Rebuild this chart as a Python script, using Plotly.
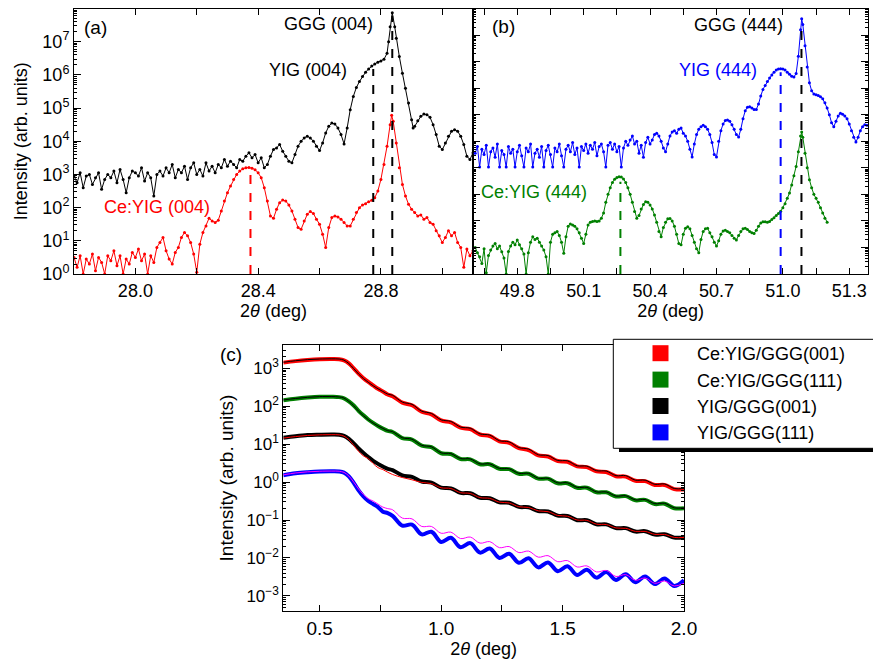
import plotly.graph_objects as go

W, H = 873, 663
FONT = "Liberation Sans, Arial, Helvetica, sans-serif"

# ---------------- panel (a): (004) reflections, (2theta, log10 intensity) ----------------
a_black = [
(27.80,2.95),(27.81,2.75),(27.82,3.05),(27.83,2.60),(27.84,2.95),(27.85,3.00),(27.86,2.70),(27.87,2.90),(27.88,3.05),(27.89,2.55),
(27.90,2.85),(27.91,3.00),(27.92,2.90),(27.93,3.10),(27.94,2.75),(27.95,3.15),(27.96,2.85),(27.97,2.45),(27.98,2.90),(27.99,3.10),
(28.00,3.05),(28.01,2.95),(28.02,3.20),(28.03,2.80),(28.04,3.05),(28.05,2.90),(28.06,2.35),(28.07,3.00),(28.08,3.10),(28.09,2.95),
(28.10,3.20),(28.11,3.05),(28.12,3.30),(28.13,2.90),(28.14,3.15),(28.15,3.05),(28.16,3.25),(28.17,2.85),(28.18,3.20),(28.19,3.35),
(28.20,3.00),(28.21,3.15),(28.22,2.95),(28.23,3.35),(28.24,3.10),(28.25,3.25),(28.26,3.05),(28.27,3.30),(28.28,3.20),(28.29,3.45),
(28.30,3.25),(28.31,3.40),(28.32,3.30),(28.33,3.20),(28.34,3.45),(28.35,3.40),(28.36,3.55),(28.37,3.65),(28.38,3.50),(28.39,3.60),
(28.40,3.35),(28.41,3.50),(28.42,3.20),(28.43,3.30),(28.44,3.55),(28.45,3.75),(28.46,3.80),(28.47,3.90),(28.48,3.70),(28.49,3.55),
(28.50,3.40),(28.51,3.35),(28.52,3.60),(28.53,3.85),(28.54,4.00),(28.55,4.10),(28.56,4.15),(28.57,4.10),(28.58,4.00),(28.59,3.85),
(28.60,3.72),(28.61,3.95),(28.62,4.25),(28.63,4.45),(28.64,4.55),(28.65,4.52),(28.66,4.40),(28.67,4.20),(28.68,3.92),(28.69,4.40),
(28.70,4.95),(28.71,5.35),(28.72,5.62),(28.73,5.80),(28.74,5.95),(28.75,6.08),(28.76,6.18),(28.77,6.27),(28.78,6.33),(28.79,6.38),
(28.80,6.42),(28.81,6.47),(28.82,6.65),(28.825,7.00),(28.83,7.45),(28.837,7.87),(28.845,7.45),(28.85,7.10),(28.86,6.55),(28.87,6.05),
(28.88,5.60),(28.89,5.15),(28.90,4.65),(28.905,4.40),(28.91,4.45),(28.92,4.62),(28.93,4.75),(28.94,4.82),(28.95,4.80),(28.96,4.72),
(28.97,4.50),(28.98,4.20),(28.99,3.85),(29.00,3.75),(29.01,3.95),(29.02,4.15),(29.03,4.30),(29.04,4.35),(29.05,4.30),(29.06,4.15),
(29.07,3.90),(29.08,3.55),(29.09,3.45),(29.10,3.65),
]
a_red = [
(27.80,0.50),(27.81,0.20),(27.82,0.55),(27.83,0.00),(27.84,0.45),(27.85,0.30),(27.86,0.60),(27.87,0.10),(27.88,0.50),(27.89,0.35),
(27.90,0.00),(27.91,0.55),(27.92,0.40),(27.93,0.70),(27.94,0.25),(27.95,0.55),(27.96,0.00),(27.97,0.45),(27.98,0.30),(27.99,0.65),
(28.00,0.50),(28.01,0.75),(28.02,0.40),(28.03,0.60),(28.04,0.00),(28.05,0.55),(28.06,0.35),(28.07,0.80),(28.08,0.95),(28.09,1.10),
(28.10,0.70),(28.11,0.45),(28.12,0.30),(28.13,0.65),(28.14,0.80),(28.15,1.10),(28.16,1.25),(28.17,1.15),(28.18,0.95),(28.19,0.60),
(28.20,0.05),(28.21,0.90),(28.22,1.25),(28.23,1.45),(28.24,1.68),(28.25,1.60),(28.26,1.55),(28.27,1.62),(28.28,1.90),(28.29,2.20),
(28.30,2.45),(28.31,2.65),(28.32,2.85),(28.33,3.00),(28.34,3.10),(28.35,3.17),(28.36,3.20),(28.37,3.21),(28.38,3.19),(28.39,3.14),
(28.40,3.05),(28.41,2.90),(28.42,2.60),(28.43,2.20),(28.44,1.75),(28.45,1.68),(28.46,1.95),(28.47,2.15),(28.48,2.23),(28.49,2.20),
(28.50,2.08),(28.51,1.90),(28.52,1.65),(28.53,1.40),(28.54,1.35),(28.55,1.60),(28.56,1.80),(28.57,1.88),(28.58,1.82),(28.59,1.65),
(28.60,1.50),(28.61,1.20),(28.62,0.80),(28.63,1.40),(28.64,1.70),(28.65,1.75),(28.66,1.72),(28.67,1.65),(28.68,1.55),(28.69,1.45),
(28.70,1.45),(28.71,1.65),(28.72,1.85),(28.73,2.00),(28.74,2.08),(28.75,2.12),(28.76,2.18),(28.77,2.22),(28.78,2.30),(28.79,2.50),
(28.80,2.85),(28.81,3.30),(28.82,3.85),(28.83,4.50),(28.835,4.78),(28.84,4.60),(28.85,3.95),(28.86,3.20),(28.87,2.70),(28.88,2.35),
(28.89,2.10),(28.90,1.95),(28.91,1.85),(28.92,1.75),(28.93,1.78),(28.94,1.65),(28.95,1.70),(28.96,1.55),(28.97,1.50),(28.98,1.30),
(28.99,1.15),(29.00,0.95),(29.01,1.10),(29.02,1.30),(29.03,1.15),(29.04,1.25),(29.05,0.95),(29.06,0.80),(29.07,0.20),(29.08,0.75),
(29.09,0.55),(29.10,0.70),
]
# dashed peak markers in (a): position, log10 top, colour
a_peak_x = [28.375, 28.775, 28.837]
a_peak_top = [3.12, 6.18, 7.78]
a_peak_col = ["#ff0000", "#000000", "#000000"]

# ---------------- panel (b): (444) reflections ----------------
b_blue = [
(49.61,4.55),(49.62,4.80),(49.63,4.03),(49.64,4.70),(49.65,4.50),(49.66,4.85),(49.67,4.03),(49.68,4.60),(49.69,4.75),(49.70,4.40),
(49.71,4.90),(49.72,4.03),(49.73,4.65),(49.74,4.50),(49.75,4.03),(49.76,4.80),(49.77,4.55),(49.78,4.70),(49.79,4.03),(49.80,4.60),
(49.81,4.85),(49.82,4.45),(49.83,4.03),(49.84,4.75),(49.85,4.60),(49.86,4.90),(49.87,4.03),(49.88,4.55),(49.89,4.70),(49.90,4.40),
(49.91,4.80),(49.92,4.03),(49.93,4.65),(49.94,4.85),(49.95,4.50),(49.96,4.03),(49.97,4.75),(49.98,4.60),(49.99,4.90),(50.00,4.45),
(50.01,4.03),(50.02,4.70),(50.03,4.85),(50.04,4.60),(50.05,4.95),(50.06,4.50),(50.07,4.75),(50.08,4.03),(50.09,4.80),(50.10,4.65),
(50.11,4.90),(50.12,4.55),(50.13,4.85),(50.14,4.70),(50.15,4.95),(50.16,4.45),(50.17,4.80),(50.18,4.90),(50.19,4.60),(50.20,4.03),
(50.21,4.85),(50.22,4.95),(50.23,4.70),(50.24,4.90),(50.25,4.60),(50.26,4.80),(50.27,4.03),(50.28,4.75),(50.29,5.00),(50.30,4.85),
(50.31,5.05),(50.32,5.20),(50.33,4.90),(50.34,5.00),(50.35,4.55),(50.36,4.85),(50.37,4.40),(50.38,4.95),(50.39,5.15),(50.40,4.90),
(50.41,5.05),(50.42,5.25),(50.43,5.30),(50.44,5.20),(50.45,5.00),(50.46,4.75),(50.47,4.60),(50.48,4.90),(50.49,5.20),(50.50,5.35),
(50.51,5.40),(50.52,5.30),(50.53,5.45),(50.54,5.50),(50.55,5.30),(50.56,5.20),(50.57,5.00),(50.58,4.70),(50.59,4.41),(50.60,4.90),
(50.61,5.25),(50.62,5.45),(50.63,5.55),(50.64,5.60),(50.65,5.55),(50.66,5.45),(50.67,5.25),(50.68,4.95),(50.69,4.50),(50.70,4.41),
(50.71,5.00),(50.72,5.40),(50.73,5.65),(50.74,5.78),(50.75,5.80),(50.76,5.75),(50.77,5.62),(50.78,5.45),(50.79,5.25),(50.80,5.16),
(50.81,5.45),(50.82,5.85),(50.83,6.15),(50.84,6.28),(50.85,6.30),(50.86,6.25),(50.87,6.20),(50.88,6.20),(50.89,6.40),(50.90,6.70),
(50.91,6.95),(50.92,7.10),(50.93,7.25),(50.94,7.38),(50.95,7.50),(50.96,7.60),(50.97,7.68),(50.98,7.72),(50.99,7.73),(51.00,7.72),
(51.01,7.68),(51.02,7.60),(51.03,7.52),(51.04,7.45),(51.05,7.42),(51.06,7.55),(51.07,8.20),(51.08,9.20),(51.085,9.61),(51.09,9.40),
(51.10,8.60),(51.11,7.80),(51.12,7.20),(51.13,6.90),(51.14,6.78),(51.15,6.75),(51.16,6.72),(51.17,6.68),(51.18,6.60),(51.19,6.45),
(51.20,6.25),(51.21,6.00),(51.22,5.70),(51.23,5.55),(51.24,5.75),(51.25,5.95),(51.26,6.05),(51.27,6.02),(51.28,5.95),(51.29,5.85),
(51.30,5.65),(51.31,5.40),(51.32,5.15),(51.33,4.97),(51.34,5.15),(51.35,5.40),(51.36,5.55),(51.37,5.62),(51.38,5.60),
]
b_green = [
(49.61,1.00),(49.62,0.80),(49.63,0.65),(49.64,0.40),(49.65,0.95),(49.66,0.05),(49.67,0.70),(49.68,0.90),(49.69,1.05),(49.70,1.15),
(49.71,0.95),(49.72,1.05),(49.73,0.84),(49.74,0.60),(49.75,0.00),(49.76,0.85),(49.77,1.05),(49.78,1.20),(49.79,1.10),(49.80,1.28),
(49.81,1.10),(49.82,0.95),(49.83,0.75),(49.84,0.00),(49.85,0.80),(49.86,1.20),(49.87,1.40),(49.88,1.30),(49.89,1.35),(49.90,1.20),
(49.91,1.05),(49.92,0.90),(49.93,0.65),(49.94,0.00),(49.95,1.20),(49.96,1.50),(49.97,1.55),(49.98,1.60),(49.99,1.45),(50.00,1.20),
(50.01,0.78),(50.02,1.40),(50.03,1.80),(50.04,1.88),(50.05,1.85),(50.06,1.80),(50.07,1.70),(50.08,1.55),(50.09,1.35),(50.10,1.15),
(50.11,1.50),(50.12,1.85),(50.13,1.95),(50.14,1.98),(50.15,2.00),(50.16,1.98),(50.17,2.00),(50.18,2.10),(50.19,2.30),(50.20,2.70),
(50.21,3.00),(50.22,3.25),(50.23,3.45),(50.24,3.57),(50.25,3.63),(50.26,3.66),(50.27,3.65),(50.28,3.58),(50.29,3.45),(50.30,3.25),
(50.31,3.00),(50.32,2.70),(50.33,2.35),(50.34,2.10),(50.35,2.20),(50.36,2.45),(50.37,2.62),(50.38,2.72),(50.39,2.70),(50.40,2.60),
(50.41,2.45),(50.42,2.22),(50.43,1.95),(50.44,1.60),(50.45,1.40),(50.46,1.75),(50.47,1.95),(50.48,2.08),(50.49,2.09),(50.50,2.00),
(50.51,1.80),(50.52,1.50),(50.53,1.15),(50.54,1.10),(50.55,1.50),(50.56,1.72),(50.57,1.78),(50.58,1.70),(50.59,1.45),(50.60,1.20),
(50.61,0.95),(50.62,0.80),(50.63,1.30),(50.64,1.60),(50.65,1.70),(50.66,1.72),(50.67,1.55),(50.68,1.40),(50.69,1.20),(50.70,1.05),
(50.71,1.25),(50.72,1.50),(50.73,1.62),(50.74,1.65),(50.75,1.60),(50.76,1.55),(50.77,1.45),(50.78,1.35),(50.79,1.28),(50.80,1.45),
(50.81,1.60),(50.82,1.70),(50.83,1.72),(50.84,1.68),(50.85,1.60),(50.86,1.55),(50.87,1.53),(50.88,1.65),(50.89,1.80),(50.90,1.92),
(50.91,1.97),(50.92,1.97),(50.93,1.95),(50.94,1.98),(50.95,2.05),(50.96,2.12),(50.97,2.20),(50.98,2.28),(50.99,2.36),(51.00,2.50),
(51.01,2.65),(51.02,2.85),(51.03,3.05),(51.04,3.35),(51.05,3.70),(51.06,4.05),(51.07,4.60),(51.08,5.20),(51.085,5.35),(51.09,5.15),
(51.10,4.55),(51.11,4.00),(51.12,3.55),(51.13,3.25),(51.14,3.00),(51.15,2.85),(51.16,2.70),(51.17,2.50),(51.18,2.30),(51.19,2.10),
(51.20,1.95),
]
b_peak_x = [50.266, 50.99, 51.084]
b_peak_top = [3.47, 7.60, 9.30]
b_peak_col = ["#008000", "#0000ff", "#000000"]

# ---------------- panel (c): reflectivity, 2theta grid and log10 intensity ----------------
c_x = [0.35,0.40,0.45,0.50,0.55,0.58,0.60,0.62,0.64,0.66,0.68,0.70,0.72,0.74,0.76,0.78,
       0.80,0.84,0.88,0.92,0.96,1.00,1.04,1.08,1.12,1.16,1.20,1.24,1.28,1.32,1.36,1.40,
       1.44,1.48,1.52,1.56,1.60,1.64,1.68,1.72,1.76,1.80,1.84,1.88,1.92,1.96,2.00]
c_red = [3.15,3.19,3.22,3.24,3.245,3.24,3.21,3.13,3.00,2.86,2.74,2.64,2.55,2.46,2.39,2.31,
         2.265,2.095,2.025,1.855,1.785,1.625,1.575,1.435,1.395,1.255,1.215,1.075,1.035,0.895,0.845,0.705,
         0.675,0.555,0.535,0.415,0.395,0.285,0.265,0.155,0.145,0.035,0.025,-0.075,-0.075,-0.185,-0.195]
c_red_fit = [3.16,3.20,3.23,3.245,3.25,3.245,3.215,3.125,2.99,2.85,2.73,2.63,2.54,2.46,2.39,2.32,
             2.29,2.11,2.05,1.87,1.81,1.64,1.60,1.45,1.42,1.27,1.24,1.09,1.06,0.91,0.87,0.72,
             0.70,0.57,0.56,0.43,0.42,0.30,0.29,0.17,0.17,0.05,0.05,-0.06,-0.05,-0.17,-0.17]
c_green = [2.16,2.20,2.23,2.25,2.25,2.24,2.21,2.13,2.02,1.88,1.76,1.65,1.56,1.48,1.41,1.35,
           1.32,1.16,1.12,0.96,0.92,0.76,0.74,0.61,0.60,0.47,0.47,0.35,0.34,0.22,0.22,0.09,
           0.09,-0.03,-0.03,-0.15,-0.15,-0.27,-0.27,-0.38,-0.37,-0.48,-0.47,-0.58,-0.57,-0.69,-0.69]
c_green_fit = [2.165,2.205,2.235,2.255,2.255,2.245,2.215,2.125,2.01,1.87,1.75,1.645,1.555,1.48,1.415,1.355,
               1.33,1.17,1.13,0.97,0.93,0.77,0.75,0.62,0.61,0.48,0.48,0.36,0.35,0.23,0.23,0.10,
               0.10,-0.02,-0.02,-0.14,-0.14,-0.26,-0.26,-0.37,-0.36,-0.47,-0.46,-0.57,-0.56,-0.68,-0.68]
c_black = [1.17,1.21,1.24,1.25,1.255,1.25,1.22,1.14,1.02,0.89,0.77,0.66,0.56,0.48,0.41,0.35,
           0.315,0.175,0.135,0.015,-0.015,-0.145,-0.165,-0.285,-0.295,-0.415,-0.425,-0.535,-0.545,-0.655,-0.665,-0.765,
           -0.775,-0.885,-0.895,-1.005,-1.005,-1.115,-1.115,-1.215,-1.215,-1.305,-1.295,-1.385,-1.375,-1.465,-1.455]
c_black_fit = [1.16,1.20,1.23,1.245,1.25,1.245,1.21,1.12,0.97,0.81,0.69,0.62,0.49,0.38,0.33,0.26,
               0.20,0.12,0.06,-0.01,-0.04,-0.15,-0.17,-0.28,-0.30,-0.41,-0.43,-0.53,-0.55,-0.65,-0.67,-0.76,
               -0.78,-0.88,-0.90,-1.00,-1.01,-1.11,-1.12,-1.21,-1.22,-1.30,-1.30,-1.38,-1.38,-1.46,-1.46]
c_blue = [0.18,0.23,0.26,0.28,0.285,0.28,0.25,0.15,-0.02,-0.22,-0.38,-0.50,-0.58,-0.66,-0.78,-0.82,
          -0.89,-1.15,-1.12,-1.38,-1.31,-1.58,-1.47,-1.72,-1.61,-1.86,-1.75,-2.00,-1.89,-2.13,-2.01,-2.25,
          -2.12,-2.35,-2.22,-2.45,-2.31,-2.52,-2.37,-2.58,-2.43,-2.64,-2.49,-2.69,-2.54,-2.74,-2.59]
c_blue_fit = [0.19,0.24,0.27,0.285,0.29,0.285,0.255,0.16,0.00,-0.18,-0.33,-0.44,-0.50,-0.58,-0.66,-0.70,
              -0.73,-0.95,-0.97,-1.17,-1.17,-1.35,-1.32,-1.49,-1.45,-1.61,-1.57,-1.73,-1.70,-1.86,-1.82,-1.98,
              -1.94,-2.10,-2.07,-2.24,-2.21,-2.37,-2.33,-2.49,-2.44,-2.59,-2.53,-2.67,-2.61,-2.74,-2.67]
legend_names = ["Ce:YIG/GGG(001)", "Ce:YIG/GGG(111)", "YIG/GGG(001)", "YIG/GGG(111)"]
legend_cols = ["#ff0000", "#008000", "#000000", "#0000ff"]


def unzip(pairs):
    return [p[0] for p in pairs], [10 ** p[1] for p in pairs]


def lin(v):
    return [10 ** t for t in v]


fig = go.Figure()

# panel (a)
for data, col in [(a_black, "#000000"), (a_red, "#ff0000")]:
    x, y = unzip(data)
    fig.add_trace(go.Scatter(x=x, y=y, mode="lines+markers", line=dict(color=col, width=1),
                             marker=dict(color=col, size=3), showlegend=False, xaxis="x", yaxis="y"))
for px_, top, col in zip(a_peak_x, a_peak_top, a_peak_col):
    fig.add_trace(go.Scatter(x=[px_, px_], y=[1, 10 ** top], mode="lines",
                             line=dict(color=col, width=2, dash="dash"), showlegend=False,
                             xaxis="x", yaxis="y"))

# panel (b)
for data, col in [(b_blue, "#0000ff"), (b_green, "#008000")]:
    x, y = unzip(data)
    fig.add_trace(go.Scatter(x=x, y=y, mode="lines+markers", line=dict(color=col, width=1),
                             marker=dict(color=col, size=3), showlegend=False, xaxis="x2", yaxis="y2"))
for px_, top, col in zip(b_peak_x, b_peak_top, b_peak_col):
    fig.add_trace(go.Scatter(x=[px_, px_], y=[1, 10 ** top], mode="lines",
                             line=dict(color=col, width=2, dash="dash"), showlegend=False,
                             xaxis="x2", yaxis="y2"))

# panel (c)
for data, fit, col, fcol in [(c_red, c_red_fit, "#ff0000", "#000000"),
                             (c_green, c_green_fit, "#008000", "#000000"),
                             (c_black, c_black_fit, "#000000", "#ff0000"),
                             (c_blue, c_blue_fit, "#0000ff", "#ff00ff")]:
    fig.add_trace(go.Scatter(x=c_x, y=lin(data), mode="lines", line=dict(color=col, width=4, shape="spline"),
                             showlegend=False, xaxis="x3", yaxis="y3"))
    fig.add_trace(go.Scatter(x=c_x, y=lin(fit), mode="lines", line=dict(color=fcol, width=1, shape="spline"),
                             showlegend=False, xaxis="x3", yaxis="y3"))
for name, col in zip(legend_names, legend_cols):
    fig.add_trace(go.Scatter(x=[None], y=[None], mode="markers", name=name,
                             marker=dict(symbol="square", size=17, color=col),
                             showlegend=True, xaxis="x3", yaxis="y3"))


def pxp(x, y):
    return x / W, 1 - y / H


def sup_ticks(lo, hi, minor_hi):
    vals = [10 ** k for k in range(lo, hi + 1)]
    txt = ["10<sup>%s</sup>" % (str(k) if k >= 0 else "\u2212" + str(-k)) for k in range(lo, hi + 1)]
    minor = [m * 10 ** k for k in range(lo - 1, minor_hi + 1) for m in range(2, 10)]
    return vals, txt, minor


ya_v, ya_t, ya_m = sup_ticks(0, 7, 8)
yb_v, yb_t, yb_m = sup_ticks(0, 10, 10)
yc_v, yc_t, yc_m = sup_ticks(-3, 3, 3)

axis_common = dict(showline=True, linecolor="black", linewidth=1, ticks="inside",
                   showgrid=False, zeroline=False, tickcolor="black", ticklabeloverflow="allow",
                   tickfont=dict(family=FONT, size=18, color="black"))

xa0, ya0 = pxp(74, 274)
xa1, ya1 = pxp(473, 8.5)
xb1, _ = pxp(868.3, 0)
xc0, yc0 = pxp(283.3, 611)
xc1, yc1 = pxp(684, 345)

fig.update_layout(
    width=W, height=H, margin=dict(l=0, r=0, t=0, b=0, autoexpand=False),
    paper_bgcolor="white", plot_bgcolor="white",
    font=dict(family=FONT, color="black"),
    xaxis=dict(axis_common, domain=[xa0, xa1], range=[27.8, 29.1], anchor="y", mirror="ticks",
               tickvals=[28.0, 28.4, 28.8], ticktext=["28.0", "28.4", "28.8"], ticklen=6,
               minor=dict(dtick=0.2, tick0=27.8, ticks="inside", ticklen=6, tickcolor="black"),
               title=dict(text="2<i>θ</i> (deg)", font=dict(size=18), standoff=4)),
    yaxis=dict(axis_common, domain=[ya0, ya1], type="log", range=[0, 8], anchor="x", mirror=True,
               tickvals=ya_v, ticktext=ya_t, ticklen=7, tickfont=dict(family=FONT, size=18),
               minor=dict(tickvals=ya_m, ticks="inside", ticklen=3, tickcolor="black"),
               title=dict(text="Intensity (arb. units)", font=dict(size=18), standoff=10)),
    xaxis2=dict(axis_common, domain=[xa1, xb1], range=[49.6, 51.386], anchor="y2", mirror="ticks",
                tickvals=[49.8, 50.1, 50.4, 50.7, 51.0, 51.3],
                ticktext=["49.8", "50.1", "50.4", "50.7", "51.0", "51.3"], ticklen=6,
                minor=dict(dtick=0.15, tick0=49.65, ticks="inside", ticklen=6, tickcolor="black"),
                title=dict(text="2<i>θ</i> (deg)", font=dict(size=18), standoff=4)),
    yaxis2=dict(axis_common, domain=[ya0, ya1], type="log", range=[0, 10], anchor="x2", mirror="ticks",
                tickvals=yb_v, ticktext=yb_t, showticklabels=False, ticklen=7,
                minor=dict(tickvals=yb_m, ticks="inside", ticklen=3, tickcolor="black")),
    xaxis3=dict(axis_common, domain=[xc0, xc1], range=[0.35, 2.0], anchor="y3", mirror="ticks",
                tickvals=[0.5, 1.0, 1.5, 2.0], ticktext=["0.5", "1.0", "1.5", "2.0"], ticklen=6,
                tickfont=dict(family=FONT, size=19),
                minor=dict(dtick=0.25, tick0=0.25, ticks="inside", ticklen=6, tickcolor="black"),
                title=dict(text="2<i>θ</i> (deg)", font=dict(size=18), standoff=3)),
    yaxis3=dict(axis_common, domain=[yc0, yc1], type="log", range=[-3.40, 3.615], anchor="x3", mirror="ticks",
                tickvals=yc_v, ticktext=yc_t, ticklen=7, tickfont=dict(family=FONT, size=17),
                minor=dict(tickvals=yc_m, ticks="inside", ticklen=3, tickcolor="black"),
                title=dict(text="Intensity (arb. units)", font=dict(size=19), standoff=7)),
    legend=dict(x=624 / W, y=1 - 335 / H, xanchor="left", yanchor="top",
                bgcolor="rgba(0,0,0,0)", borderwidth=0,
                font=dict(family=FONT, size=18, color="black"),
                itemwidth=63, tracegroupgap=0, traceorder="normal"),
)

# legend frame (extends past the right edge) and its drop shadow
bx0, by0 = pxp(613.3, 448.3)
_, by1 = pxp(0, 339.3)
sx0, sy0 = pxp(619, 452)
_, sy1 = pxp(0, 447)
fig.add_shape(type="rect", xref="paper", yref="paper", x0=sx0, x1=1.02, y0=sy0, y1=sy1,
              fillcolor="black", line=dict(width=0), layer="above")
fig.add_shape(type="rect", xref="paper", yref="paper", x0=bx0, x1=1.02, y0=by0, y1=by1,
              fillcolor="white", line=dict(color="black", width=1), layer="above")

labels = [
    ("(a)", 95, 28, "black", 19),
    ("GGG (004)", 328, 24, "black", 18),
    ("YIG (004)", 308, 70, "black", 18),
    ("Ce:YIG (004)", 157, 207, "#ff0000", 18),
    ("(b)", 504, 27, "black", 19),
    ("GGG (444)", 738, 25, "black", 18),
    ("YIG (444)", 718, 70, "#0000ff", 18),
    ("Ce:YIG (444)", 534, 192, "#008000", 18),
    ("(c)", 231, 354, "black", 19),
]
for text, lx, ly, col, fs in labels:
    ax_, ay_ = pxp(lx, ly)
    fig.add_annotation(text=text, x=ax_, y=ay_, xref="paper", yref="paper", showarrow=False,
                       xanchor="center", yanchor="middle", font=dict(family=FONT, size=fs, color=col))

fig.write_html("out.html", config={"displayModeBar": False},
               post_script="document.body.style.margin='0px';")
